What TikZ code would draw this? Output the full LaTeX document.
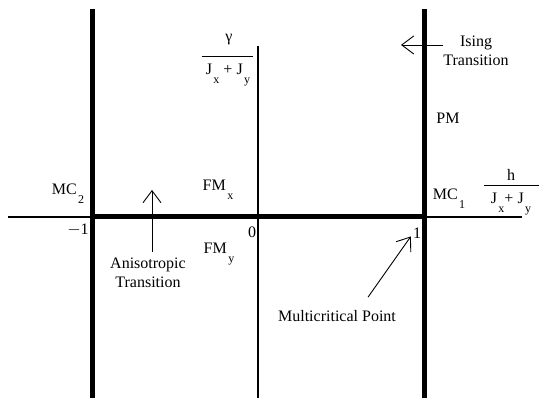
\documentclass[tikz,border=0pt]{standalone}
\usepackage{fontspec}
\setmainfont{Liberation Serif}
\usetikzlibrary{arrows.meta}
\newcommand{\lsub}[1]{\hspace{1.5pt}\raisebox{-9pt}{\fontsize{12}{12}\selectfont #1}}
\tikzset{
  lbl/.style={inner sep=0pt, font=\fontsize{16}{19}\selectfont},
  phase/.style={line width=5pt},
  axis/.style={line width=1.6pt},
  bar/.style={line width=0.9pt},
  arr/.style={line width=0.9pt, -{Straight Barb[length=12pt,width=18pt]}},
}
\begin{document}
\begin{tikzpicture}[x=1pt,y=1pt]
    \useasboundingbox (0,0) rectangle (543,401);

    \draw[axis] (8,184) -- (522,184);
    \draw[axis] (258,355) -- (258,3);
    \draw[phase] (92,184) -- (424,184);
    \draw[phase] (92,391.5) -- (92,3);
    \draw[phase] (424,391.5) -- (424,3);

    \node[lbl] (gamnum) at (229,361) {γ};
    \draw[bar] (202,345) -- (253,345);
    \node[lbl] (gamden) at (228,326) {J\lsub{x} + J\lsub{y}};

    \node[lbl] (hnum) at (511,226) {h};
    \draw[bar] (484,216) -- (539,216);
    \node[lbl] (hden) at (511,197) {J\lsub{x}+ J\lsub{y}};

    \node[lbl, align=center] (ising) at (476,350) {Ising\\Transition};
    \node[lbl] (pm) at (448,283) {PM};
    \node[lbl] (mcone) at (449,202) {MC\lsub{1}};
    \node[lbl] (mctwo) at (68,207) {MC\lsub{2}};
    \node[lbl] (fmx) at (218,211) {FM\lsub{x}};
    \node[lbl] (fmy) at (219,147) {FM\lsub{y}};
    \node[lbl] (mone) at (78,171) {$-$1};
    \node[lbl] (zero) at (252,169) {0};
    \node[lbl] (one) at (417,168) {1};
    \node[lbl, align=center] (aniso) at (148,128) {Anisotropic\\Transition};
    \node[lbl] (multi) at (337,85) {Multicritical Point};

    \coordinate (isingtip) at (401,356);
    \coordinate (anisotip) at (152,211);

    \draw[arr] (ising.west |- isingtip) -- (isingtip);
    \draw[arr, shorten <=6pt] (aniso.north -| anisotip) -- (anisotip);
    \draw[arr] ([xshift=31pt,yshift=13pt]multi.north) -- ([xshift=-2pt,yshift=2pt]one.south west);

\end{tikzpicture}
\end{document}
